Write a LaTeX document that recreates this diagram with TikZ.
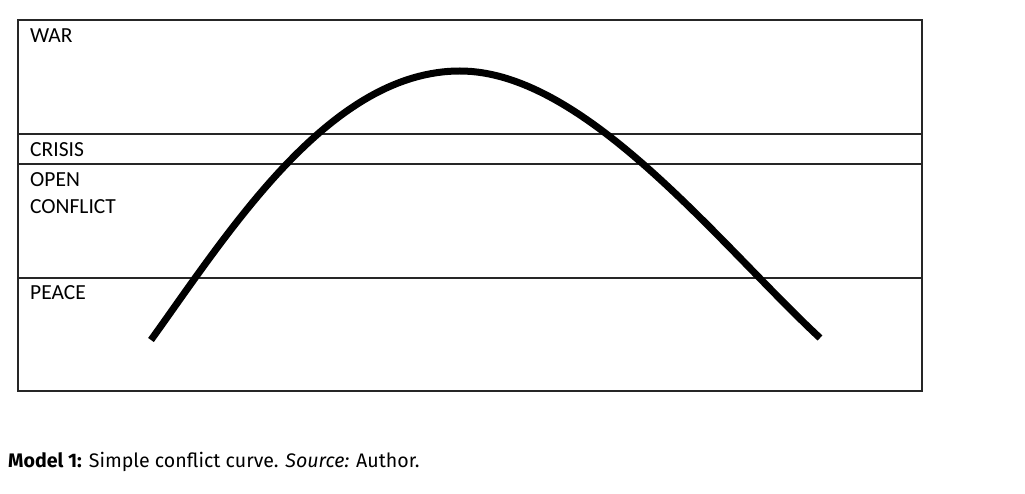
\documentclass[tikz,border=0pt]{standalone}
\usepackage{fontspec}
\setmainfont{Carlito}
\newfontfamily\capfont{Fira Sans}
\begin{document}
\begin{tikzpicture}[x=1pt,y=-1pt,
  band/.style={line width=1.2pt,draw=black!85},
  lbl/.style={anchor=base west,inner sep=0pt,font=\fontsize{21.5}{25}\selectfont},
  curve/.style={line width=7pt}]
\useasboundingbox (0,0) rectangle (1025,494);
\draw[band] (18,20) rectangle (922,391);
\draw[band] (18,134) -- (922,134);
\draw[band] (18,164) -- (922,164);
\draw[band] (18,278) -- (922,278);
\node[lbl] (war) at (30,43) {WAR};
\node[lbl] (crisis) at (30,157) {CRISIS};
\node[lbl] (open) at (30,187) {OPEN};
\node[lbl] (conflict) at (30,214) {CONFLICT};
\node[lbl] (peace) at (30,300) {PEACE};
\coordinate (s) at (151,340);
\coordinate (p) at (460,71);
\coordinate (e) at (820,338);
\draw[curve] (s) .. controls (230,230) and (330,71) .. (p)
  .. controls (585,71) and (720,245) .. (e);
\node[anchor=base west,inner sep=0pt,font=\capfont\fontsize{19.6}{24}\selectfont] (cap) at (8,467) {\textbf{Model 1:} Simple conflict curve. \textit{Source:} Author.};
\end{tikzpicture}
\end{document}
